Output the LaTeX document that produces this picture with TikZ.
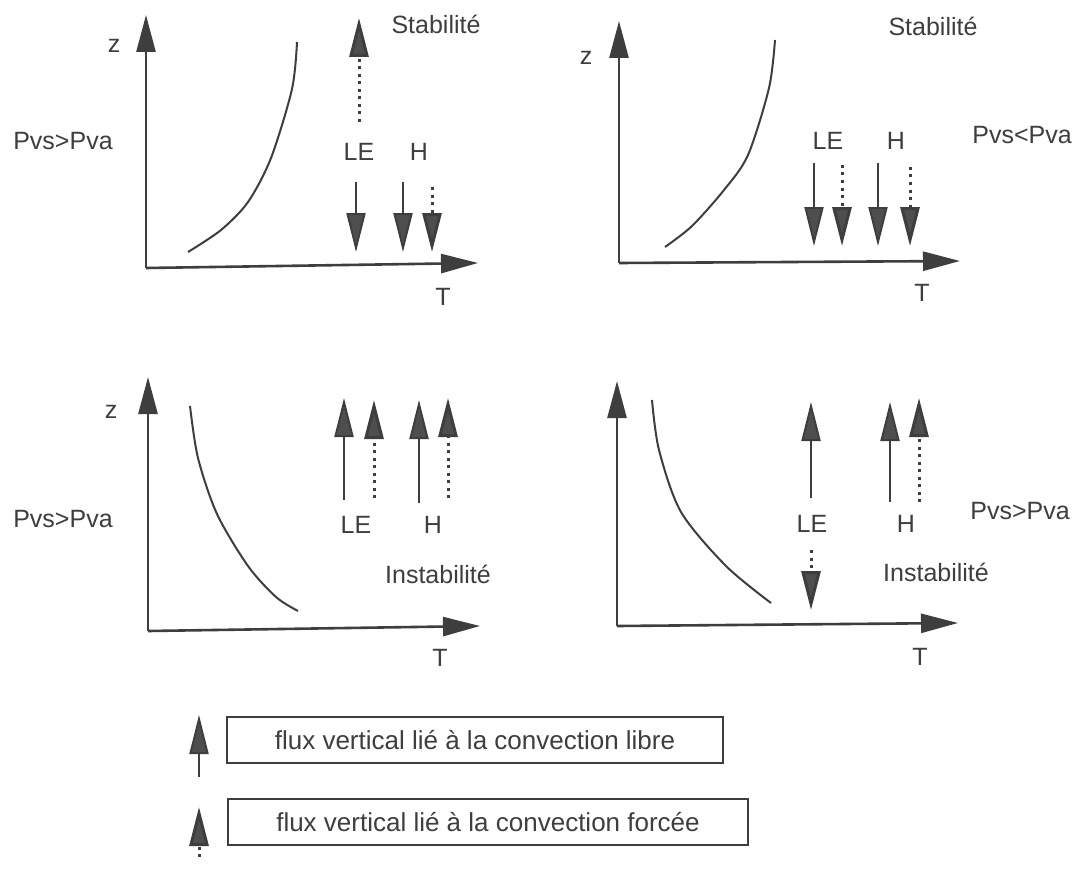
\documentclass[tikz,border=0pt]{standalone}
\usepackage{fontspec}
\setmainfont{Liberation Sans}
\usetikzlibrary{arrows.meta}
\definecolor{inkcolor}{RGB}{62,62,62}
\definecolor{headcolor}{RGB}{78,78,78}
\tikzset{
  axis/.style={draw=inkcolor, line width=2.6pt, -{Triangle[length=37pt, width=19pt, fill=inkcolor]}},
  libre/.style={draw=inkcolor, line width=1.9pt, -{Triangle[length=39pt, width=19pt, fill=headcolor]}},
  forcee/.style={draw=inkcolor, line width=3pt, dash pattern=on 3pt off 4.5pt, -{Triangle[length=39pt, width=19pt, fill=headcolor]}},
  profile/.style={draw=inkcolor, line width=2pt, line join=round},
  lbl/.style={font=\fontsize{25}{30}\selectfont, text=inkcolor, inner sep=0pt},
  legendbox/.style={draw=inkcolor, line width=1.8pt, inner sep=0pt}
}
\newcommand{\axes}[6]{%
  \coordinate (#1o) at (#2,#3);
  \coordinate (#1x) at (#4,#5);
  \coordinate (#1z) at (#2,#6);
  \draw[axis] (#1o) -- (#1z);
  \draw[axis] (#1o) -- (#1x);
}
\newcommand{\flux}[5]{%
  \coordinate (#1a) at (#2,#3);
  \coordinate (#1b) at (#2,#4);
  \draw[#5] (#1a) -- (#1b);
}
\begin{document}
\begin{tikzpicture}[x=1pt, y=-1pt]
    \fill[white] (0,0) rectangle (1083,869);
    \useasboundingbox (0,0) rectangle (1083,869);
    % Axes (name, origin, T tip, z tip)
    \axes{tl}{146}{268}{478}{263}{15}
    \axes{tr}{619}{263}{960}{261}{21}
    \axes{bl}{148}{631}{480}{626}{377}
    \axes{br}{617}{626}{958}{623}{381}
    \node[lbl] (tlT) at (443,297) {T};
    \node[lbl] (trT) at (922,293) {T};
    \node[lbl] (blT) at (440,658) {T};
    \node[lbl] (brT) at (920,657) {T};
    \node[lbl] (tlzl) at (114,46) {z};
    \node[lbl] (trzl) at (586,58) {z};
    \node[lbl] (blzl) at (111,412) {z};
    % Profiles
    \draw[profile] plot[smooth, tension=0.5] coordinates {(188,252) (221,230) (248,202) (271,158) (292,89) (297,42)};
    \draw[profile] plot[smooth, tension=0.5] coordinates {(665,247) (692,226) (724,190) (748,155) (769,88) (775,40)};
    \draw[profile] plot[smooth, tension=0.5] coordinates {(190,406) (198,458) (217,514) (248,566) (276,597) (298,611)};
    \draw[profile] plot[smooth, tension=0.5] coordinates {(652,400) (659,450) (681,512) (726,566) (771,603)};
    % Stabilite, Pvs>Pva
    \node[lbl] (tlst) at (436,24) {Stabilité};
    \node[lbl] (tlp) at (63,141) {Pvs>Pva};
    \node[lbl] (tlle) at (359,152) {LE};
    \node[lbl] (tlh) at (419,152) {H};
    \flux{tlleu}{359}{122}{18}{forcee}
    \flux{tlled}{356}{182}{252}{libre}
    \flux{tlhd}{403}{182}{252}{libre}
    \flux{tlhf}{432}{187}{252}{forcee}
    % Stabilite, Pvs<Pva
    \node[lbl] (trst) at (933,26) {Stabilité};
    \node[lbl] (trp) at (1022,135) {Pvs<Pva};
    \node[lbl] (trle) at (828,141) {LE};
    \node[lbl] (trh) at (896,141) {H};
    \flux{trled}{814}{163}{246}{libre}
    \flux{trlef}{842}{165}{246}{forcee}
    \flux{trhd}{878}{163}{246}{libre}
    \flux{trhf}{910}{167}{246}{forcee}
    % Instabilite, Pvs>Pva (left)
    \node[lbl] (blin) at (438,574) {Instabilité};
    \node[lbl] (blp) at (63,519) {Pvs>Pva};
    \node[lbl] (blle) at (356,525) {LE};
    \node[lbl] (blh) at (433,525) {H};
    \flux{bllu}{344}{500}{398}{libre}
    \flux{bllf}{374}{498}{400}{forcee}
    \flux{blhu}{419}{503}{400}{libre}
    \flux{blhf}{448}{498}{398}{forcee}
    % Instabilite, Pvs>Pva (right)
    \node[lbl] (brin) at (936,572) {Instabilité};
    \node[lbl] (brp) at (1020,511) {Pvs>Pva};
    \node[lbl] (brle) at (812,524) {LE};
    \node[lbl] (brh) at (906,524) {H};
    \flux{brlu}{811}{498}{402}{libre}
    \flux{brlf}{811}{550}{610}{forcee}
    \flux{brhu}{890}{502}{402}{libre}
    \flux{brhf}{919}{502}{398}{forcee}
    % Legend
    \node[legendbox, minimum width=496pt, minimum height=46pt] (leglibre) at (475,740) {};
    \node[lbl, font=\fontsize{26}{30}\selectfont] (leglibret) at (leglibre) {flux vertical lié à la convection libre};
    \node[legendbox, minimum width=520pt, minimum height=46pt] (legforcee) at (488,822) {};
    \node[lbl, font=\fontsize{26}{30}\selectfont] (legforceet) at (legforcee) {flux vertical lié à la convection forcée};
    \flux{legl}{199}{777}{715}{libre}
    \flux{legf}{199}{857}{807}{forcee}
\end{tikzpicture}
\end{document}
